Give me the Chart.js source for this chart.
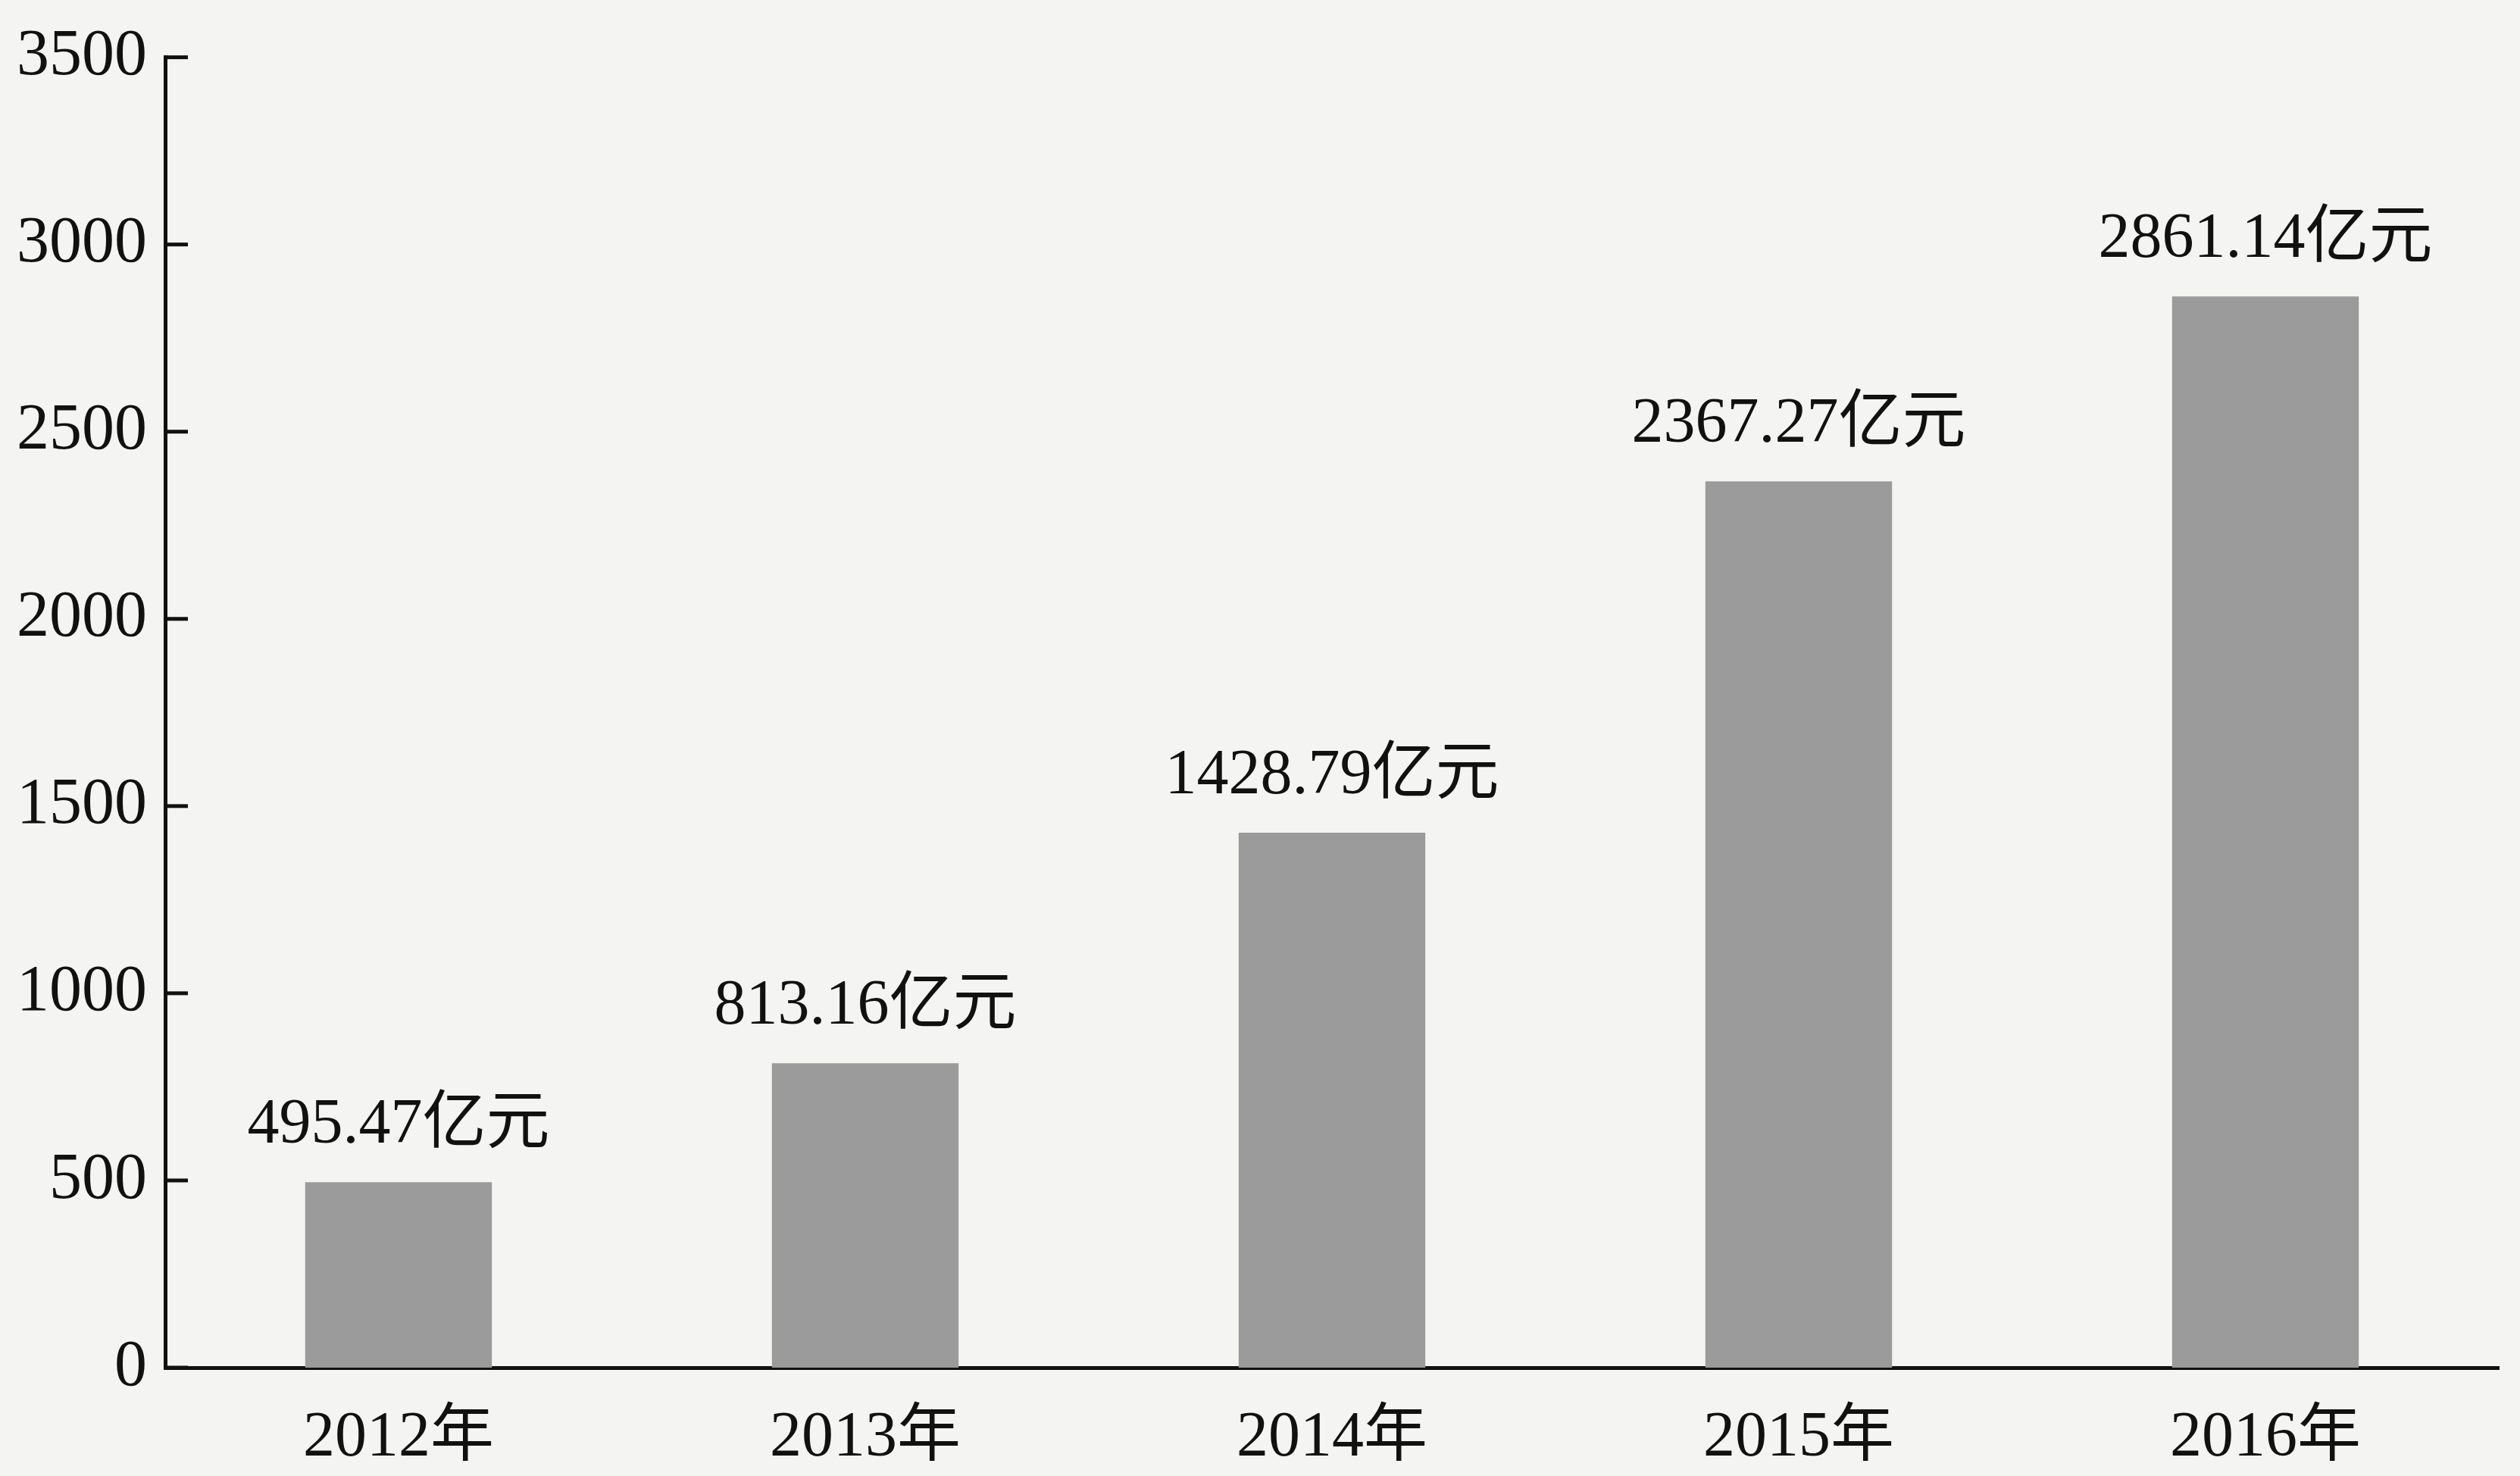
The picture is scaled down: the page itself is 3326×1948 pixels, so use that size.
<!DOCTYPE html>
<html>
<head>
<meta charset="utf-8">
<script src="https://cdn.jsdelivr.net/npm/chart.js@4/dist/chart.umd.min.js"></script>
<style>
  body { margin: 0; background: #f4f4f2; }
  #wrap { width: 3326px; height: 1948px; }
</style>
</head>
<body>
<div id="wrap"><canvas id="chart"></canvas></div>
<script>
// 연도별 값 (亿元)
const years = ['2012年', '2013年', '2014年', '2015年', '2016年'];
const amounts = [495.47, 813.16, 1428.79, 2367.27, 2861.14];
const amountLabels = ['495.47亿元', '813.16亿元', '1428.79亿元', '2367.27亿元', '2861.14亿元'];
const yTicks = [0, 500, 1000, 1500, 2000, 2500, 3000, 3500];

const fontFamily = "'Liberation Serif', 'Noto Sans CJK SC', serif";

// y축 안쪽 눈금
const innerTicks = {
	id: 'innerTicks',
	afterDraw(chart) {
		const ctx = chart.ctx;
		const y = chart.scales.y;
		ctx.save();
		ctx.strokeStyle = '#111';
		ctx.lineWidth = 5;
		yTicks.forEach(function(v) {
			const py = y.getPixelForValue(v);
			ctx.beginPath();
			ctx.moveTo(y.right, py);
			ctx.lineTo(y.right + 30, py);
			ctx.stroke();
		});
		ctx.restore();
	}
};

// 막대 위 값 표시
const barLabels = {
	id: 'barLabels',
	afterDatasetsDraw(chart) {
		const ctx = chart.ctx;
		const meta = chart.getDatasetMeta(0);
		ctx.save();
		ctx.fillStyle = '#111';
		ctx.font = '84px ' + fontFamily;
		ctx.textAlign = 'center';
		ctx.textBaseline = 'alphabetic';
		meta.data.forEach(function(bar, i) {
			ctx.fillText(amountLabels[i], bar.x, bar.y - 52);
		});
		ctx.restore();
	}
};

new Chart(document.getElementById('chart'), {
	type: 'bar',
	data: {
		labels: years,
		datasets: [{
			data: amounts,
			backgroundColor: '#9b9b9b',
			borderWidth: 0,
			categoryPercentage: 0.8,
			barPercentage: 0.5
		}]
	},
	options: {
		responsive: true,
		maintainAspectRatio: false,
		animation: false,
		layout: {
			padding: { top: 70, right: 28, left: 0, bottom: 0 }
		},
		plugins: {
			legend: { display: false },
			tooltip: { enabled: false }
		},
		scales: {
			x: {
				grid: { display: false, drawTicks: false },
				border: { display: true, color: '#111', width: 5 },
				ticks: {
					color: '#111',
					padding: 44,
					font: { size: 84, family: fontFamily }
				},
				afterFit: function(scale) { scale.height = 143; }
			},
			y: {
				min: 0,
				max: 3500,
				grid: { display: false, drawTicks: false },
				border: { display: true, color: '#111', width: 5 },
				ticks: {
					stepSize: 500,
					color: '#111',
					padding: 24,
					font: { size: 86, family: fontFamily },
					callback: function(v) { return String(v); }
				},
				afterFit: function(scale) { scale.width = 218; }
			}
		}
	},
	plugins: [innerTicks, barLabels]
});
</script>
</body>
</html>
